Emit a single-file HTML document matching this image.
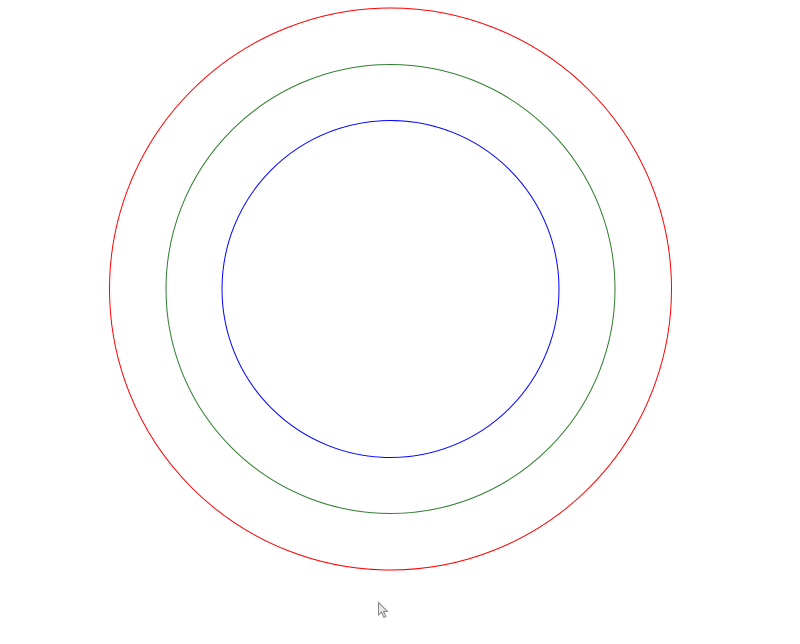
<!DOCTYPE html>
<html>
<head>
<meta charset="utf-8">
<style>
  html, body { margin: 0; padding: 0; background: #ffffff; }
  body { width: 800px; height: 644px; overflow: hidden; font-family: "Liberation Sans", sans-serif; }
  svg { display: block; }
</style>
</head>
<body>
<svg id="chart" width="800" height="644" viewBox="0 0 800 644" xmlns="http://www.w3.org/2000/svg">
  <g id="rings"></g>
  <path d="M378.5,602.5 L378.5,615 L381.5,612 L384,617.5 L386,616.5 L383.5,611.5 L387.5,611.5 Z" fill="#e8e8e8" stroke="#888" stroke-width="1"/>
</svg>
<script>
const ringNames = ["outer-ring", "middle-ring", "inner-ring"];
const radii = [281, 224.5, 168.5];
const ringColors = ["#ff0000", "#2e7d2e", "#0000ff"];

const cx = 390.5, cy = 289;
function rScale(v) { return v; }

const g = document.getElementById('rings');
const ns = 'http://www.w3.org/2000/svg';
for (let i = 0; i < radii.length; i++) {
  const c = document.createElementNS(ns, 'circle');
  c.setAttribute('cx', cx);
  c.setAttribute('cy', cy);
  c.setAttribute('r', rScale(radii[i]));
  c.setAttribute('fill', 'none');
  c.setAttribute('stroke', ringColors[i]);
  c.setAttribute('stroke-width', '1');
  
  
  g.appendChild(c);
}
</script>
</body>
</html>
